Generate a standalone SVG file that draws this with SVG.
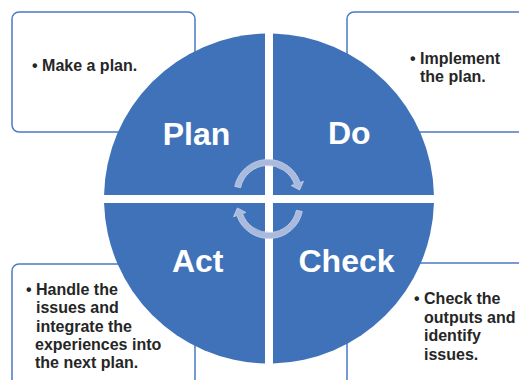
<svg xmlns="http://www.w3.org/2000/svg" width="519" height="380" viewBox="0 0 519 380">
  <style>
    .box { fill: #ffffff; stroke: #4a7bc4; stroke-width: 1.5; }
    .note { font-family: "Liberation Sans", Arial, sans-serif; font-weight: bold; font-size: 16px; fill: #262626; }
    .quad { fill: #3f72b8; }
    .label { font-family: "Liberation Sans", Arial, sans-serif; font-weight: bold; font-size: 32px; fill: #ffffff; text-anchor: middle; }
    .cyc { fill: #a9badc; stroke: #c8d3eb; stroke-width: 0.8; }
  </style>
  <defs>
    <path id="cycArrow" d="M234.74 186.43 A34 34 0 0 1 300.15 182.43 L303.46 181.29 L299.6 190.0 L291.16 185.52 L294.47 184.38 A28 28 0 0 0 240.61 187.68 Z"/>
  </defs>
  <rect width="519" height="380" fill="#ffffff"/>

  <g id="note-plan">
    <rect class="box" x="12" y="12" width="183" height="120" rx="7"/>
    <text class="note"><tspan x="32" y="70.5">• Make a plan.</tspan></text>
  </g>
  <g id="note-do">
    <rect class="box" x="347" y="12" width="190" height="120" rx="7"/>
    <text class="note"><tspan x="410" y="64">• Implement</tspan><tspan x="420" y="82">the plan.</tspan></text>
  </g>
  <g id="note-act">
    <rect class="box" x="12" y="264" width="183" height="130" rx="7"/>
    <text class="note"><tspan x="26" y="295">• Handle the</tspan><tspan x="36" y="313">issues and</tspan><tspan x="36" y="331.5">integrate the</tspan><tspan x="35" y="350">experiences into</tspan><tspan x="35" y="368">the next plan.</tspan></text>
  </g>
  <g id="note-check">
    <rect class="box" x="347" y="263" width="190" height="130" rx="7"/>
    <text class="note"><tspan x="414" y="304.3">• Check the</tspan><tspan x="424" y="322.7">outputs and</tspan><tspan x="424" y="341.3">identify</tspan><tspan x="424" y="359.5">issues.</tspan></text>
  </g>

  <g id="quad-plan">
    <path class="quad" d="M265 195 L265 33.55 A165 165 0 0 0 104.04 195 Z"/>
    <text class="label" x="196.5" y="145">Plan</text>
  </g>
  <g id="quad-do">
    <path class="quad" d="M273 195 L433.96 195 A165 165 0 0 0 273 33.55 Z"/>
    <text class="label" x="349.3" y="144">Do</text>
  </g>
  <g id="quad-act">
    <path class="quad" d="M265 203 L104.06 203 A165 165 0 0 0 265 363.45 Z"/>
    <text class="label" x="197.7" y="271.7">Act</text>
  </g>
  <g id="quad-check">
    <path class="quad" d="M273 203 L273 363.45 A165 165 0 0 0 433.94 203 Z"/>
    <text class="label" x="346.5" y="271.7">Check</text>
  </g>

  <g id="connectors">
    <use href="#cycArrow" class="cyc"/>
    <use href="#cycArrow" class="cyc" transform="rotate(180 268.5 199)"/>
  </g>
</svg>
